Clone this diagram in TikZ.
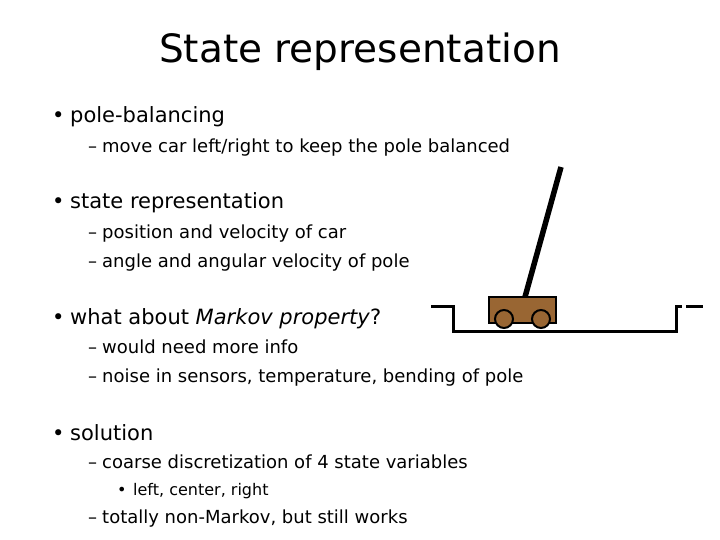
\documentclass[tikz,border=0pt]{standalone}
\usepackage{fontspec}
\setmainfont{DejaVu Sans}
\usetikzlibrary{positioning}
\tikzset{
  lvlone/.style={anchor=base west, inner sep=0pt, font=\fontsize{21}{24}\selectfont},
  lvltwo/.style={anchor=base west, inner sep=0pt, font=\fontsize{18}{21}\selectfont},
  lvlthree/.style={anchor=base west, inner sep=0pt, font=\fontsize{16}{19}\selectfont},
  cartline/.style={line width=3pt},
}
\newcommand{\itemone}[3]{
  \node[lvlone] (b#1) at (52pt,#2) {•};
  \node[lvlone] (t#1) at (70pt,#2) {#3};
}
\newcommand{\itemtwo}[3]{
  \node[lvltwo] (d#1) at (88pt,#2) {–};
  \node[lvltwo] (t#1) at (102pt,#2) {#3};
}
\begin{document}
\begin{tikzpicture}[x=1pt,y=-1pt]
  \useasboundingbox (0,0) rectangle (720,540);
  \node[font=\fontsize{39}{46}\selectfont, inner sep=0pt] (title) at (360,52) {State representation};

  \itemone{1}{123}{pole-balancing}
  \itemtwo{11}{153}{move car left/right to keep the pole balanced}
  \itemone{2}{209}{state representation}
  \itemtwo{21}{238}{position and velocity of car}
  \itemtwo{22}{267}{angle and angular velocity of pole}
  \itemone{3}{324}{what about \textit{Markov property}?}
  \itemtwo{31}{353}{would need more info}
  \itemtwo{32}{382}{noise in sensors, temperature, bending of pole}
  \itemone{4}{440}{solution}
  \itemtwo{41}{468}{coarse discretization of 4 state variables}
  \node[lvlthree] (b411) at (117,495) {•};
  \node[lvlthree] (t411) at (133,495) {left, center, right};
  \itemtwo{42}{523}{totally non-Markov, but still works}

  % cart and pole
  \draw[cartline] (431,306) -- (453,306) -- (453,331) -- (676,331) -- (676,306) -- (682,306);
  \draw[cartline] (686,306) -- (703,306);
  \draw[line width=2pt, fill={rgb,255:red,153;green,102;blue,51}] (489,297) rectangle (556,323);
  \foreach \x in {504,541}
    \draw[line width=2pt, fill={rgb,255:red,153;green,102;blue,51}] (\x,319) circle (9);
  \draw[line width=5.5pt] (525,297) -- (561,167);
\end{tikzpicture}
\end{document}
